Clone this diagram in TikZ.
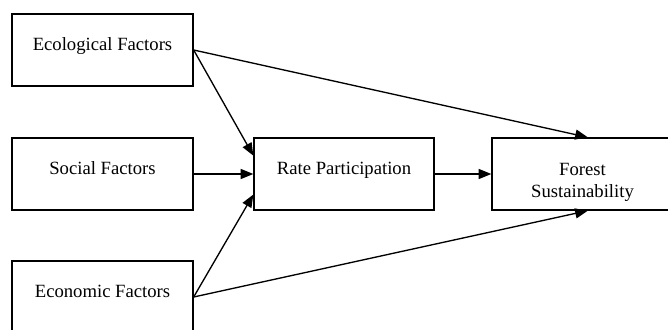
\documentclass[tikz,border=0pt]{standalone}
\usepackage{fontspec}
\setmainfont{Liberation Serif}
\usetikzlibrary{arrows.meta, calc, positioning}
\tikzset{factor/.style={draw, rectangle, line width=1pt, minimum width=135.75pt, minimum height=54pt, inner sep=0pt, font=\fontsize{14}{16.5}\selectfont, text height=0.7em, text depth=0.7em}}
\tikzset{outcome/.style={factor, text height=, text depth=}}
\tikzset{link/.style={draw, line width=1pt, -{Triangle[length=9.5pt, width=7.5pt]}}}

\begin{document}
\begin{tikzpicture}[x=0.75pt, y=-0.75pt]
        \useasboundingbox (0, 0) rectangle (668, 329);
        \clip (0, 0) rectangle (668, 329);
        \begin{scope}
            \node[factor] (Neco) at (102.5, 50) {Ecological Factors};
            \node[factor] (Nsoc) at (102.5, 174) {Social Factors};
            \node[factor] (Necon) at (102.5, 297) {Economic Factors};

            \node[factor, minimum width=135pt] (Nrate) at (344, 174) {Rate Participation};
            \node[outcome, label={[name=Nforesttext, align=center, yshift=-6.4pt, font=\fontsize{14}{16.5}\selectfont]center:{Forest\\Sustainability}}] (Nforest) at (582.5, 174) {};

            \draw [link] (Neco.east) -- ($(Nrate.north west)!0.25!(Nrate.south west)$);
            \draw [link] (Nsoc.east) -- (Nrate.west);
            \draw [link] (Necon.east) -- ($(Nrate.north west)!0.78!(Nrate.south west)$);

            \draw [link] (Neco.east) -- ([xshift=4pt]Nforest.north);
            \draw [link] (Necon.east) -- ([xshift=4pt]Nforest.south);
            \draw [link] (Nrate.east) -- (Nforest.west);
        \end{scope}
    \end{tikzpicture}
\end{document}
